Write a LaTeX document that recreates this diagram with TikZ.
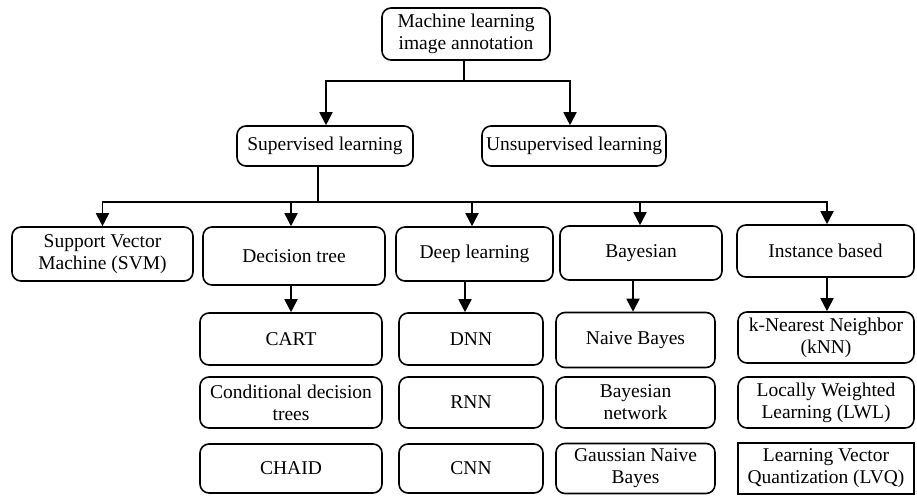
\documentclass[tikz,border=0pt]{standalone}
\usepackage{fontspec}
\setmainfont{Liberation Serif}
\usetikzlibrary{arrows.meta}
\begin{document}
\begin{tikzpicture}[x=1pt,y=-1pt,
  box/.style={draw,line width=1.6pt,rounded corners=9pt,align=center,inner sep=0pt,
    font=\fontsize{19.5}{22}\selectfont},
  sqbox/.style={box,rounded corners=0pt,line width=1.3pt},
  conn/.style={line width=1.8pt},
  arr/.style={conn,-{Triangle[length=13pt,width=13pt]}}]
\useasboundingbox (0,0) rectangle (917,495);
% level 0 and 1
\node[box,minimum width=168pt,minimum height=52pt] (root) at (466,34) {Machine learning\\image annotation};
\node[box,minimum width=176pt,minimum height=40pt] (sup) at (325,146) {Supervised learning};
\node[box,minimum width=184pt,minimum height=40pt] (uns) at (574,146) {Unsupervised learning};
% level 2
\node[box,minimum width=181pt,minimum height=54pt] (svm) at (102.5,254) {Support Vector\\Machine (SVM)};
\node[box,minimum width=182pt,minimum height=58pt] (dt) at (294,256) {Decision tree};
\node[box,minimum width=157pt,minimum height=54pt] (dl) at (474.5,254) {Deep learning};
\node[box,minimum width=162pt,minimum height=54pt] (bay) at (641,253) {Bayesian};
\node[box,minimum width=177pt,minimum height=52pt] (inst) at (825.5,251) {Instance based};
% level 3
\node[box,minimum width=182pt,minimum height=52pt] (cart) at (291,339) {CART};
\node[box,minimum width=182pt,minimum height=51pt] (cond) at (291,402.5) {Conditional decision\\trees};
\node[box,minimum width=182pt,minimum height=49pt] (chaid) at (291,468.5) {CHAID};
\node[box,minimum width=144pt,minimum height=52pt] (dnn) at (471,339) {DNN};
\node[box,minimum width=144pt,minimum height=51pt] (rnn) at (471,402.5) {RNN};
\node[box,minimum width=144pt,minimum height=49pt] (cnn) at (471,468.5) {CNN};
\node[box,minimum width=159pt,minimum height=55pt] (nb) at (635.5,340) {Naive Bayes};
\node[box,minimum width=159pt,minimum height=51pt] (bn) at (635.5,402.5) {Bayesian\\network};
\node[box,minimum width=159pt,minimum height=50pt] (gnb) at (635.5,468.5) {Gaussian Naive\\Bayes};
\node[box,minimum width=176pt,minimum height=51pt] (knn) at (826,337.5) {k-Nearest Neighbor\\(kNN)};
\node[box,minimum width=176pt,minimum height=51pt] (lwl) at (826,402.5) {Locally Weighted\\Learning (LWL)};
\node[sqbox,minimum width=176pt,minimum height=51pt] (lvq) at (826,468.5) {Learning Vector\\Quantization (LVQ)};
% connectors level 0 -> 1
\coordinate (j1) at (464,81);
\draw[conn] (root.south -| j1) -- (j1);
\draw[arr] (j1) -| ([xshift=1pt]sup.north);
\draw[arr] (j1) -| ([xshift=-4pt]uns.north);
% connectors level 1 -> 2
\coordinate (j2) at (318,202);
\draw[conn] (sup.south -| j2) -- (j2);
\draw[arr] (j2) -| (svm.north);
\draw[arr] (j2) -| ([xshift=-3pt]dt.north);
\draw[arr] (j2) -| ([xshift=-2.5pt]dl.north);
\draw[arr] (j2) -| ([xshift=-1pt]bay.north);
\draw[arr] (j2) -| ([xshift=1.5pt]inst.north);
% connectors level 2 -> 3
\draw[arr] (dt.south -| cart.north) -- (cart.north);
\draw[arr] ([xshift=-6pt]dnn.north |- dl.south) -- ([xshift=-6pt]dnn.north);
\draw[arr] ([xshift=-2.5pt]nb.north |- bay.south) -- ([xshift=-2.5pt]nb.north);
\draw[arr] ([xshift=1pt]knn.north |- inst.south) -- ([xshift=1pt]knn.north);
\end{tikzpicture}
\end{document}
